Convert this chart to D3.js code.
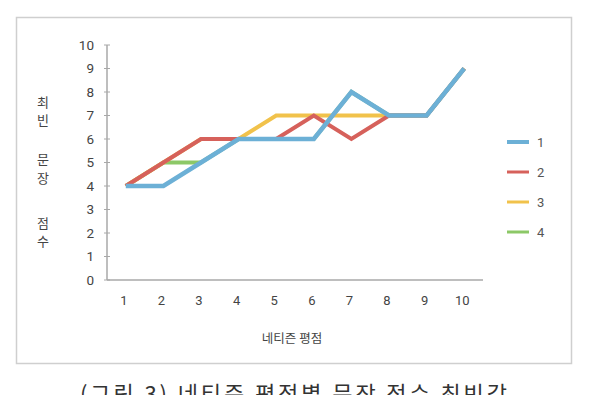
<!DOCTYPE html>
<html><head><meta charset="utf-8">
<script src="https://cdn.jsdelivr.net/npm/d3@7"></script>
<style>body{margin:0;background:#fff}svg{display:block}</style>
</head><body>
<svg id="c" width="592" height="395"></svg>
<script>
const categories = ["1","2","3","4","5","6","7","8","9","10"];
const seriesNames = ["1","2","3","4"];
const s1 = [4,4,5,6,6,6,8,7,7,9];
const s2 = [4,5,6,6,6,7,6,7,7,9];
const s3 = [4,5,6,6,7,7,7,7,7,9];
const s4 = [4,5,5,6,6,6,8,7,7,9];
const yTicks = [0,1,2,3,4,5,6,7,8,9,10];
const colors = ["#6cb0d6","#d6615b","#f1c24b","#8cc867"];
const yLabelChars = ["최","빈","문","장","점","수"];

const svg = d3.select("#c");
const font = "Roboto, 'Noto Sans', sans-serif";
// frame
svg.append("rect").attr("x",16.5).attr("y",17.5).attr("width",555).attr("height",346)
  .attr("fill","none").attr("stroke","#cfcfcf").attr("stroke-width",1.5);

const x = d3.scalePoint().domain(categories).range([107,483]).padding(0.5);
const y = d3.scaleLinear().domain([0,10]).range([280,45]);

// y axis
const ya = svg.append("g");
ya.append("line").attr("x1",107).attr("x2",107).attr("y1",y(10)).attr("y2",y(0))
  .attr("stroke","#a8a8a8").attr("stroke-width",1.5);
ya.selectAll("line.t").data(yTicks).join("line").attr("class","t")
  .attr("x1",104).attr("x2",110).attr("y1",d=>y(d)).attr("y2",d=>y(d))
  .attr("stroke","#a8a8a8").attr("stroke-width",1);
ya.selectAll("text").data(yTicks).join("text")
  .attr("x",94).attr("y",d=>y(d)).attr("dy","0.36em").attr("text-anchor","end")
  .attr("font-family",font).attr("font-size",13.5).attr("fill","#444").text(d=>d);

// x axis
svg.append("line").attr("x1",107).attr("x2",483).attr("y1",y(0)).attr("y2",y(0))
  .attr("stroke","#a8a8a8").attr("stroke-width",1.5);
svg.append("g").selectAll("text").data(categories).join("text")
  .attr("x",d=>x(d)-2).attr("y",300).attr("dy","0.36em").attr("text-anchor","middle")
  .attr("font-family",font).attr("font-size",13).attr("fill","#444").text(d=>d);
svg.append("text").attr("x",292).attr("y",338).attr("dy","0.36em").attr("text-anchor","middle")
  .attr("font-family","'Noto Sans CJK KR', sans-serif").attr("font-size",12.5).attr("fill","#444").text("네티즌 평점");

// y label
const yLabY = [102,120,159,178,223,241];
svg.append("g").selectAll("text").data(yLabelChars).join("text")
  .attr("x",43).attr("y",(d,i)=>yLabY[i]).attr("dy","0.36em").attr("text-anchor","middle")
  .attr("font-family","'Noto Sans CJK KR', sans-serif").attr("font-size",13).attr("fill","#444").text(d=>d);

// lines (series 4 drawn first, series 1 on top)
const data = [s1,s2,s3,s4];
const line = d3.line().x((d,i)=>x(categories[i])).y(d=>y(d));
for (let k = data.length-1; k >= 0; k--) {
  svg.append("path").datum(data[k]).attr("d",line).attr("fill","none")
    .attr("stroke",colors[k]).attr("stroke-width",k===0?4.5:4).attr("stroke-linejoin","miter");
}

// legend
const lg = svg.append("g");
const lgY = [142,172,202,232];
seriesNames.forEach((n,i)=>{
  lg.append("line").attr("x1",507).attr("x2",529).attr("y1",lgY[i]).attr("y2",lgY[i])
    .attr("stroke",colors[i]).attr("stroke-width",i===0?4:3);
  lg.append("text").attr("x",537).attr("y",lgY[i]).attr("dy","0.36em")
    .attr("font-family",font).attr("font-size",13).attr("fill","#555").text(n);
});

// caption (partially cut off at the bottom, as in the reference)
svg.append("text").attr("x",80).attr("y",402).attr("font-family","'Noto Sans CJK KR', sans-serif")
  .attr("font-size",22).attr("textLength",427).attr("lengthAdjust","spacing")
  .attr("fill","#333").text("(그림 3) 네티즌 평점별 문장 점수 최빈값");
</script>
</body></html>
